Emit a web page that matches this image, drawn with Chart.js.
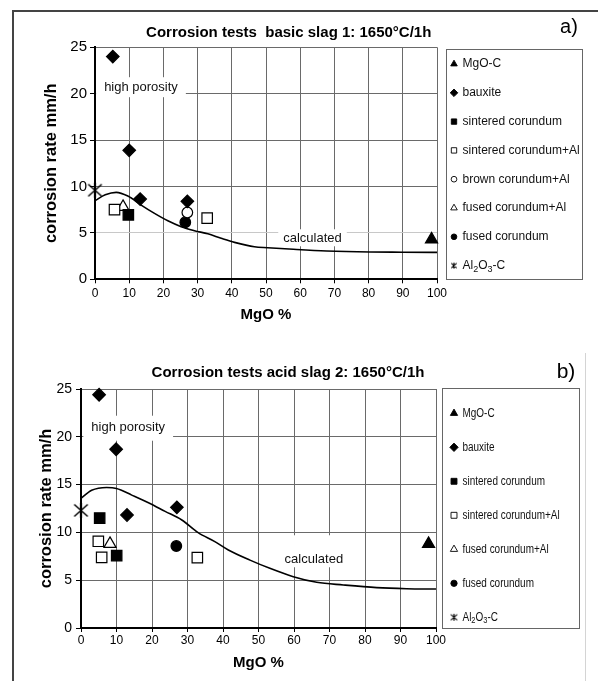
<!DOCTYPE html>
<html><head><meta charset="utf-8">
<script src="https://cdn.jsdelivr.net/npm/chart.js@4"></script>
<style>
html,body{margin:0;padding:0;background:#fff;}
body{width:598px;height:681px;position:relative;overflow:hidden;}
canvas{position:absolute;left:0;}
#ca{top:0;} #cb{top:330px;}
.ln{position:absolute;background:#444;}
</style></head><body>
<div class="ln" style="left:12px;top:10px;width:586px;height:2px"></div>
<div class="ln" style="left:12px;top:10px;width:2px;height:671px"></div>
<div class="ln" style="left:585px;top:353px;width:1px;height:328px;background:#d4d4d4"></div>
<canvas id="ca" width="598" height="330"></canvas>
<canvas id="cb" width="598" height="351"></canvas>
<script>
// ---------- DATA ----------
const xTicks = [0, 10, 20, 30, 40, 50, 60, 70, 80, 90, 100];
const yTicks = [0, 5, 10, 15, 20, 25];

const titleA = 'Corrosion tests  basic slag 1: 1650°C/1h';
const titleB = 'Corrosion tests acid slag 2: 1650°C/1h';

// panel a) basic slag 1  [MgO %, corrosion rate mm/h]
const aMgoC               = [[98.4, 4.3]];
const aBauxite            = [[5.2, 24.0], [10.0, 13.9], [13.2, 8.65], [27.0, 8.4]];
const aSinteredCorundum   = [[9.75, 6.95]];
const aSinteredCorundumAl = [[5.7, 7.5], [32.8, 6.6]];
const aBrownCorundumAl    = [[27.0, 7.2]];
const aFusedCorundumAl    = [[8.2, 7.8]];
const aFusedCorundum      = [[26.4, 6.15]];
const aAl2O3C             = [[0, 9.6]];
const aCalcX = [0, 3, 6.2, 9.6, 13.5, 17.4, 21.3, 25.2, 29.1, 33, 36.9, 40.8, 46.6, 50.5, 58, 67.7, 80.4, 90, 100];
const aCalcY = [8.47, 9.1, 9.37, 8.97, 8.0, 7.1, 6.3, 5.67, 5.24, 4.9, 4.42, 3.98, 3.5, 3.4, 3.23, 3.05, 2.94, 2.92, 2.9];

// panel b) acid slag 2
const bMgoC               = [[97.9, 8.8]];
const bBauxite            = [[5.1, 24.4], [9.9, 18.7], [12.96, 11.82], [27.0, 12.62]];
const bSinteredCorundum   = [[5.26, 11.5], [10.05, 7.57]];
const bSinteredCorundumAl = [[4.88, 9.07], [5.82, 7.39], [32.77, 7.36]];
const bFusedCorundumAl    = [[8.17, 8.8]];
const bFusedCorundum      = [[26.85, 8.58]];
const bAl2O3C             = [[0, 12.3]];
const bCalcX = [0, 3, 7.2, 10, 14.3, 19, 23.7, 28.4, 33, 37.7, 41.5, 47.6, 53.2, 59.8, 66.4, 73.9, 83.3, 91.7, 100];
const bCalcY = [13.56, 14.4, 14.7, 14.6, 13.9, 13.1, 12.2, 11.3, 9.97, 9.03, 8.16, 7.1, 6.24, 5.37, 4.78, 4.5, 4.22, 4.11, 4.08];

// ---------- STYLE ----------
function hasFont(name){
  const c = document.createElement('canvas').getContext('2d');
  c.font = '20px monospace'; const w1 = c.measureText('abcdefghijklmnop').width;
  c.font = "20px '" + name + "', monospace"; const w2 = c.measureText('abcdefghijklmnop').width;
  return Math.abs(w1 - w2) > 0.5;
}
const FONT = "'Liberation Sans', Arial, sans-serif";
const narrowOK = hasFont('Liberation Sans Narrow');
const NARROW = narrowOK ? "'Liberation Sans Narrow', 'Liberation Sans', sans-serif" : FONT;
const xTickFont = narrowOK ? {family: NARROW, size: 13} : {family: FONT, size: 12};
const legendFontB = narrowOK ? ('12px ' + NARROW) : ('12px ' + FONT);
const legendScaleB = narrowOK ? 1 : 0.83;

Chart.defaults.font.family = FONT;
Chart.defaults.color = '#000';

// asterisk-like marker (X with vertical bar)
function asterisk(size, lw){
  const c = document.createElement('canvas');
  c.width = size; c.height = size;
  const g = c.getContext('2d'), h = size / 2, a = h - 1;
  g.strokeStyle = '#000'; g.lineWidth = lw;
  g.beginPath();
  g.moveTo(h, h - a); g.lineTo(h, h + a);
  g.moveTo(h - a * 0.9, h - a * 0.8); g.lineTo(h + a * 0.9, h + a * 0.8);
  g.moveTo(h - a * 0.9, h + a * 0.8); g.lineTo(h + a * 0.9, h - a * 0.8);
  g.stroke();
  return c;
}
const starBig = asterisk(17, 1.5);
const starSmallA = asterisk(8, 1.1);
const starSmallB = asterisk(9, 1.1);

const markerStyle = {
  'MgO-C':                {pointStyle: 'triangle', radius: 7,   bg: '#000'},
  'bauxite':              {pointStyle: 'rectRot',  radius: 6.3, bg: '#000'},
  'sintered corundum':    {pointStyle: 'rect',     radius: 7.4, bg: '#000'},
  'sintered corundum+Al': {pointStyle: 'rect',     radius: 7.4, bg: '#fff'},
  'brown corundum+Al':    {pointStyle: 'circle',   radius: 5.3, bg: '#fff'},
  'fused corundum+Al':    {pointStyle: 'triangle', radius: 7,   bg: '#fff'},
  'fused corundum':       {pointStyle: 'circle',   radius: 5.3, bg: '#000'},
  'Al2O3-C':              {pointStyle: starBig,    radius: 8.5, bg: '#000', star: true}
};

const toPts = arr => arr.map(p => ({x: p[0], y: p[1]}));
const zipPts = (xs, ys) => xs.map((x, i) => ({x: x, y: ys[i]}));

function markerDataset(label, arr){
  const s = markerStyle[label];
  return {
    label: label, data: toPts(arr), pointStyle: s.pointStyle, pointRadius: s.radius,
    pointHoverRadius: s.radius, backgroundColor: s.bg, borderColor: '#000',
    pointBorderWidth: 1.2, borderWidth: 1.2, clip: false, order: 1, isStar: !!s.star
  };
}
function calcDataset(xs, ys){
  return {
    label: 'calculated', data: zipPts(xs, ys), showLine: true, pointRadius: 0,
    borderColor: '#000', borderWidth: 1.6, tension: 0.4, cubicInterpolationMode: 'monotone',
    fill: false, clip: false, order: 10, noLegend: true
  };
}

function drawRich(ctx, text, x, y, font, size, sx){
  // digits rendered as subscripts (Al2O3-C)
  const parts = text.split(/(\d)/).filter(p => p.length);
  ctx.save();
  ctx.translate(x, y);
  ctx.scale(sx, 1);
  let cx = 0;
  parts.forEach(p => {
    if (/^\d$/.test(p)) {
      ctx.font = font.replace(/[\d.]+px/, (size * 0.75).toFixed(1) + 'px');
      ctx.fillText(p, cx, size * 0.3);
    } else {
      ctx.font = font;
      ctx.fillText(p, cx, 0);
    }
    cx += ctx.measureText(p).width;
  });
  ctx.restore();
}

const decor = {
  id: 'decor',
  beforeDatasetsDraw(chart, args, o){
    const ctx = chart.ctx, xs = chart.scales.x, ys = chart.scales.y;
    (o.notes || []).forEach(n => {
      const px = xs.getPixelForValue(n.x), py = ys.getPixelForValue(n.y);
      ctx.save();
      ctx.font = n.font;
      const w = ctx.measureText(n.text).width;
      ctx.fillStyle = '#fff';
      ctx.fillRect(px - w / 2 - n.padX, py - n.up, w + 2 * n.padX, n.up + n.down);
      ctx.fillStyle = '#111';
      ctx.textAlign = 'center'; ctx.textBaseline = 'middle';
      ctx.fillText(n.text, px, py);
      ctx.restore();
    });
  },
  afterDraw(chart, args, o){
    const ctx = chart.ctx;
    ctx.save();
    // panel letter
    ctx.font = o.letterFont; ctx.fillStyle = '#000';
    ctx.textAlign = 'center'; ctx.textBaseline = 'middle';
    ctx.fillText(o.letter, o.letterX, o.letterY);
    // legend box
    const L = o.legend, b = L.box;
    ctx.strokeStyle = '#666'; ctx.lineWidth = 1;
    ctx.strokeRect(b[0] + 0.5, b[1] + 0.5, b[2] - b[0], b[3] - b[1]);
    let i = 0;
    chart.data.datasets.forEach(ds => {
      if (ds.noLegend) return;
      const y = L.y0 + i * L.step;
      ctx.fillStyle = ds.backgroundColor; ctx.strokeStyle = '#000'; ctx.lineWidth = 0.9;
      if (ds.isStar) {
        ctx.drawImage(L.starImg, L.mx - L.starImg.width / 2, y - L.starImg.height / 2);
      } else {
        let r = L.r;
        if (ds.pointStyle === 'circle') r *= 0.75;
        Chart.helpers.drawPoint(ctx, {pointStyle: ds.pointStyle, radius: r, rotation: 0, borderWidth: 0.9},
          L.mx, y);
      }
      ctx.fillStyle = '#111'; ctx.textAlign = 'left'; ctx.textBaseline = 'middle';
      drawRich(ctx, ds.label, L.tx, y, L.font, L.size, L.sx);
      i++;
    });
    ctx.restore();
  }
};

function makeScales(c){
  return {
    x: {
      type: 'linear', min: 0, max: 100,
      afterBuildTicks: s => { s.ticks = xTicks.map(v => ({value: v})); },
      afterFit: s => { s.height = c.xH; },
      grid: {color: '#6a6a6a', lineWidth: 1, tickLength: 4, tickColor: '#000'},
      border: {color: '#000', width: 2},
      ticks: {font: xTickFont, color: '#000', padding: c.xTickPad, maxRotation: 0, autoSkip: false},
      title: {display: true, text: 'MgO %', color: '#000', font: {family: FONT, size: 15, weight: 'bold'},
              padding: {top: 0, bottom: c.xTitlePad}}
    },
    y: {
      type: 'linear', min: 0, max: 25,
      afterBuildTicks: s => { s.ticks = yTicks.map(v => ({value: v})); },
      afterFit: s => { s.width = c.yW; },
      grid: {color: c.yGridColor, lineWidth: 1, tickLength: 5, tickColor: '#000'},
      border: {color: '#000', width: 2},
      ticks: {font: {family: FONT, size: c.yTickSize}, color: '#000', padding: c.yTickPad},
      title: {display: true, text: 'corrosion rate mm/h', color: '#000',
              font: {family: FONT, size: 16.5, weight: 'bold'}, padding: {top: c.yTitlePad, bottom: 0}}
    },
    r: {
      type: 'linear', position: 'right', display: true,
      afterFit: s => { s.width = c.rW; },
      grid: {display: false, drawTicks: false}, border: {display: false}, ticks: {display: false}
    }
  };
}

function makeChart(id, datasets, c, deco){
  return new Chart(document.getElementById(id), {
    type: 'scatter',
    data: {datasets: datasets},
    options: {
      responsive: false, animation: false, devicePixelRatio: 1, events: [],
      layout: {padding: {left: 0, right: c.padR, top: 0, bottom: 0}},
      scales: makeScales(c),
      plugins: {
        legend: {display: false}, tooltip: {enabled: false},
        title: {display: true, text: c.title, color: '#000', fullSize: true,
                font: {family: FONT, size: 15, weight: 'bold'},
                padding: {top: c.titleTop, bottom: c.titleBottom}},
        decor: deco
      }
    },
    plugins: [decor]
  });
}

const dsA = [
  markerDataset('MgO-C', aMgoC),
  markerDataset('bauxite', aBauxite),
  markerDataset('sintered corundum', aSinteredCorundum),
  markerDataset('sintered corundum+Al', aSinteredCorundumAl),
  markerDataset('brown corundum+Al', aBrownCorundumAl),
  markerDataset('fused corundum+Al', aFusedCorundumAl),
  markerDataset('fused corundum', aFusedCorundum),
  markerDataset('Al2O3-C', aAl2O3C),
  calcDataset(aCalcX, aCalcY)
];
const dsB = [
  markerDataset('MgO-C', bMgoC),
  markerDataset('bauxite', bBauxite),
  markerDataset('sintered corundum', bSinteredCorundum),
  markerDataset('sintered corundum+Al', bSinteredCorundumAl),
  markerDataset('fused corundum+Al', bFusedCorundumAl),
  markerDataset('fused corundum', bFusedCorundum),
  markerDataset('Al2O3-C', bAl2O3C),
  calcDataset(bCalcX, bCalcY)
];

makeChart('ca', dsA, {
  title: titleA, titleTop: 24.3, titleBottom: 5,
  padR: 20.6, rW: 140.4, yW: 95, xH: 50.7,
  xTickPad: 3, xTitlePad: 6, yTickPad: 3, yTickSize: 15, yTitlePad: 42,
  yGridColor: ctx => (ctx.tick && ctx.tick.value === 5) ? '#c8c8c8' : '#6a6a6a'
}, {
  letter: 'a)', letterX: 569, letterY: 27.5, letterFont: '20px ' + FONT,
  notes: [
    {text: 'high porosity', x: 13.45, y: 20.7, font: '13px ' + FONT, padX: 8, up: 10, down: 10},
    {text: 'calculated', x: 63.6, y: 4.42, font: '13px ' + FONT, padX: 5, up: 9, down: 8}
  ],
  legend: {box: [446, 49, 582, 279], mx: 454, tx: 462.5, y0: 64, step: 28.8, r: 3.8,
           font: '12px ' + FONT, size: 12, sx: 1, starImg: starSmallA}
});

makeChart('cb', dsB, {
  title: titleB, titleTop: 34.3, titleBottom: 6.7,
  padR: 22, rW: 140, yW: 81, xH: 53,
  xTickPad: 1, xTitlePad: 9, yTickPad: 4, yTickSize: 14, yTitlePad: 36.8,
  yGridColor: '#6a6a6a'
}, {
  letter: 'b)', letterX: 566, letterY: 42, letterFont: '21px ' + FONT,
  notes: [
    {text: 'high porosity', x: 13.3, y: 20.95, font: '13px ' + FONT, padX: 8, up: 12, down: 13},
    {text: 'calculated', x: 65.6, y: 7.19, font: '13px ' + FONT, padX: 4, up: 24, down: 8}
  ],
  legend: {box: [442, 58, 579, 298], mx: 454, tx: 462.5, y0: 83.3, step: 34, r: 4.2,
           font: legendFontB, size: 12, sx: legendScaleB, starImg: starSmallB}
});
</script>
</body></html>
